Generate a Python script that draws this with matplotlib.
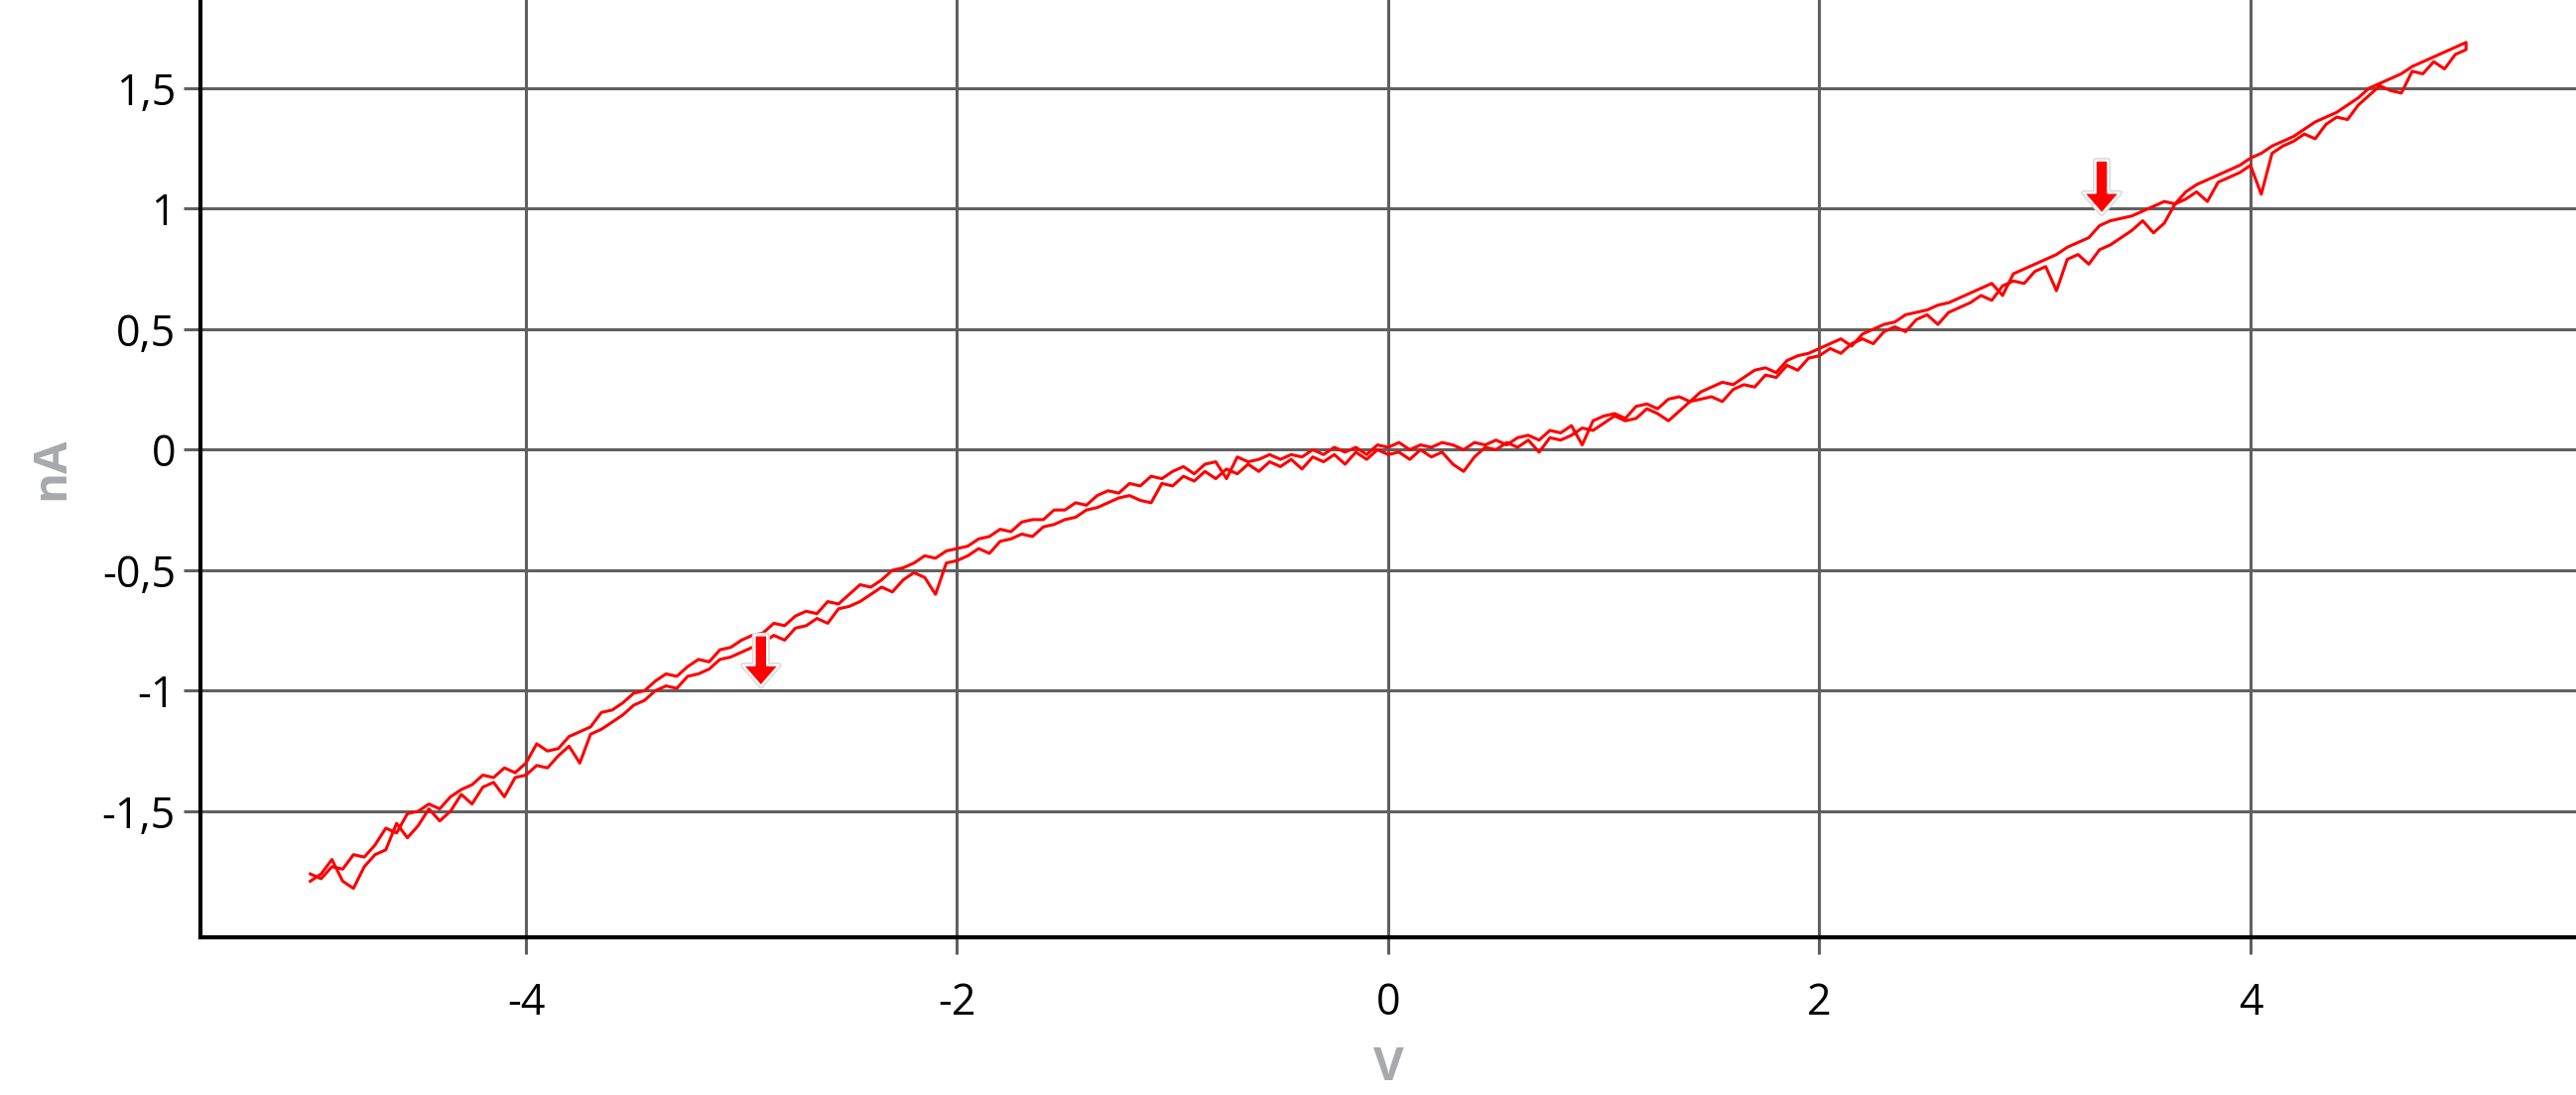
import numpy as np
import matplotlib.pyplot as plt
from matplotlib import patheffects
from matplotlib.ticker import FuncFormatter

# varredura de tensão (V), ida de -5 a 5 e volta de 5 a -5, passo 0,05 V
V = np.linspace(-5, 5, 201)

# corrente na ida (nA), em ordem crescente de V
I_ida = [
    -1.79, -1.76, -1.70, -1.79, -1.82, -1.73, -1.68, -1.66, -1.55, -1.61,
    -1.56, -1.49, -1.54, -1.50, -1.43, -1.47, -1.40, -1.38, -1.44, -1.36,
    -1.35, -1.31, -1.32, -1.27, -1.23, -1.30, -1.18, -1.16, -1.13, -1.10,
    -1.06, -1.04, -1.00, -0.98, -0.99, -0.94, -0.93, -0.91, -0.87, -0.86,
    -0.84, -0.82, -0.80, -0.77, -0.79, -0.74, -0.73, -0.70, -0.72, -0.66,
    -0.65, -0.63, -0.60, -0.57, -0.59, -0.54, -0.51, -0.53, -0.60, -0.47,
    -0.46, -0.44, -0.41, -0.43, -0.38, -0.37, -0.35, -0.36, -0.32, -0.31,
    -0.29, -0.28, -0.25, -0.24, -0.22, -0.20, -0.19, -0.21, -0.22, -0.14,
    -0.15, -0.11, -0.13, -0.09, -0.12, -0.08, -0.10, -0.06, -0.09, -0.05,
    -0.07, -0.04, -0.08, -0.03, -0.05, -0.02, -0.06, -0.01, -0.04, 0.00,
    -0.02, -0.01, -0.04, 0.00, -0.03, -0.01, -0.06, -0.09, -0.03, 0.01,
    0.00, 0.03, 0.01, 0.04, -0.01, 0.05, 0.04, 0.06, 0.09, 0.08,
    0.11, 0.14, 0.12, 0.13, 0.17, 0.15, 0.12, 0.16, 0.20, 0.21,
    0.22, 0.20, 0.25, 0.27, 0.26, 0.31, 0.30, 0.35, 0.33, 0.38,
    0.39, 0.42, 0.40, 0.44, 0.46, 0.44, 0.49, 0.51, 0.49, 0.54,
    0.56, 0.52, 0.57, 0.59, 0.61, 0.64, 0.62, 0.68, 0.70, 0.69,
    0.74, 0.76, 0.66, 0.79, 0.81, 0.77, 0.83, 0.85, 0.88, 0.91,
    0.95, 0.90, 0.94, 1.02, 1.04, 1.07, 1.03, 1.11, 1.13, 1.15,
    1.18, 1.06, 1.23, 1.26, 1.28, 1.31, 1.29, 1.35, 1.38, 1.37,
    1.43, 1.47, 1.51, 1.49, 1.48, 1.57, 1.56, 1.61, 1.58, 1.64,
    1.66,
]

# corrente na volta (nA), também listada em ordem crescente de V
I_volta = [
    -1.76, -1.78, -1.73, -1.74, -1.68, -1.69, -1.64, -1.57, -1.59, -1.51,
    -1.50, -1.47, -1.49, -1.44, -1.41, -1.39, -1.35, -1.36, -1.32, -1.34,
    -1.30, -1.22, -1.25, -1.24, -1.19, -1.17, -1.15, -1.09, -1.08, -1.05,
    -1.01, -1.00, -0.96, -0.93, -0.94, -0.90, -0.87, -0.88, -0.83, -0.82,
    -0.79, -0.77, -0.76, -0.72, -0.73, -0.69, -0.67, -0.68, -0.63, -0.64,
    -0.60, -0.56, -0.57, -0.54, -0.50, -0.49, -0.47, -0.44, -0.45, -0.42,
    -0.41, -0.40, -0.37, -0.36, -0.33, -0.34, -0.30, -0.29, -0.29, -0.25,
    -0.25, -0.22, -0.23, -0.19, -0.17, -0.18, -0.14, -0.15, -0.11, -0.12,
    -0.09, -0.07, -0.10, -0.06, -0.05, -0.12, -0.03, -0.05, -0.04, -0.02,
    -0.04, -0.02, -0.03, 0.00, -0.02, 0.01, -0.01, 0.01, -0.02, 0.02,
    0.01, 0.03, 0.00, 0.02, 0.01, 0.03, 0.02, 0.00, 0.03, 0.02,
    0.04, 0.02, 0.05, 0.06, 0.04, 0.08, 0.07, 0.10, 0.02, 0.12,
    0.14, 0.15, 0.13, 0.18, 0.19, 0.17, 0.21, 0.22, 0.20, 0.24,
    0.26, 0.28, 0.27, 0.30, 0.33, 0.34, 0.32, 0.37, 0.39, 0.40,
    0.42, 0.44, 0.46, 0.43, 0.48, 0.50, 0.52, 0.53, 0.56, 0.57,
    0.58, 0.60, 0.61, 0.63, 0.65, 0.67, 0.69, 0.64, 0.73, 0.75,
    0.77, 0.79, 0.81, 0.84, 0.86, 0.88, 0.93, 0.95, 0.96, 0.97,
    0.99, 1.01, 1.03, 1.02, 1.07, 1.10, 1.12, 1.14, 1.16, 1.18,
    1.21, 1.23, 1.26, 1.28, 1.30, 1.33, 1.36, 1.38, 1.40, 1.43,
    1.46, 1.50, 1.52, 1.54, 1.56, 1.59, 1.61, 1.63, 1.65, 1.67,
    1.69,
]

# setas (posição em V, ponta e base em nA)
seta_V = [3.31, -2.91]
seta_ponta = [0.98, -0.98]
seta_base = [1.20, -0.77]

xticks = [-4, -2, 0, 2, 4]
yticks = [-1.5, -1, -0.5, 0, 0.5, 1, 1.5]

plt.rcParams['font.family'] = ['Open Sans', 'DejaVu Sans']
plt.rcParams['axes.unicode_minus'] = False

fig = plt.figure(figsize=(25.96, 11.04), dpi=100)
ax = fig.add_axes([0.0778, 0.144, 0.9222, 0.856])

# ida + volta numa linha só
ax.plot(np.concatenate([V, V[::-1]]),
        np.concatenate([I_ida, I_volta[::-1]]),
        color='#ff0000', lw=2.2, zorder=3)

for xv, yp, yb in zip(seta_V, seta_ponta, seta_base):
    ax.annotate('', xy=(xv, yp), xytext=(xv, yb),
                arrowprops=dict(arrowstyle='simple,head_length=0.75,head_width=1.3,tail_width=0.45',
                                fc='#ff0000', ec='white', lw=1.5, mutation_scale=20,
                                shrinkA=0, shrinkB=0,
                                path_effects=[patheffects.Stroke(linewidth=4, foreground='#dddddd'),
                                              patheffects.Normal()]),
                zorder=4)

ax.set_xlim(-5.51, 5.51)
ax.set_ylim(-2.023, 1.866)
ax.set_xticks(xticks)
ax.set_yticks(yticks)
ax.yaxis.set_major_formatter(FuncFormatter(lambda v, p: ('%g' % v).replace('.', ',')))

ax.grid(True, color='#606060', lw=2.2)
ax.set_axisbelow(True)
for s in ['top', 'right']:
    ax.spines[s].set_visible(False)
for s in ['left', 'bottom']:
    ax.spines[s].set_linewidth(3)
    ax.spines[s].set_color('black')
    ax.spines[s].set_zorder(5)

ax.tick_params(axis='both', length=12, width=2.2, color='#606060', labelsize=31, labelcolor='black')
ax.tick_params(axis='x', pad=20)
ax.tick_params(axis='y', pad=6)

ax.set_xlabel('V', color='#a8a9ad', fontsize=34, fontweight='bold', labelpad=14)
ax.set_ylabel('nA', color='#a8a9ad', fontsize=34, fontweight='bold', labelpad=20)

plt.savefig('out.png', dpi=100)
